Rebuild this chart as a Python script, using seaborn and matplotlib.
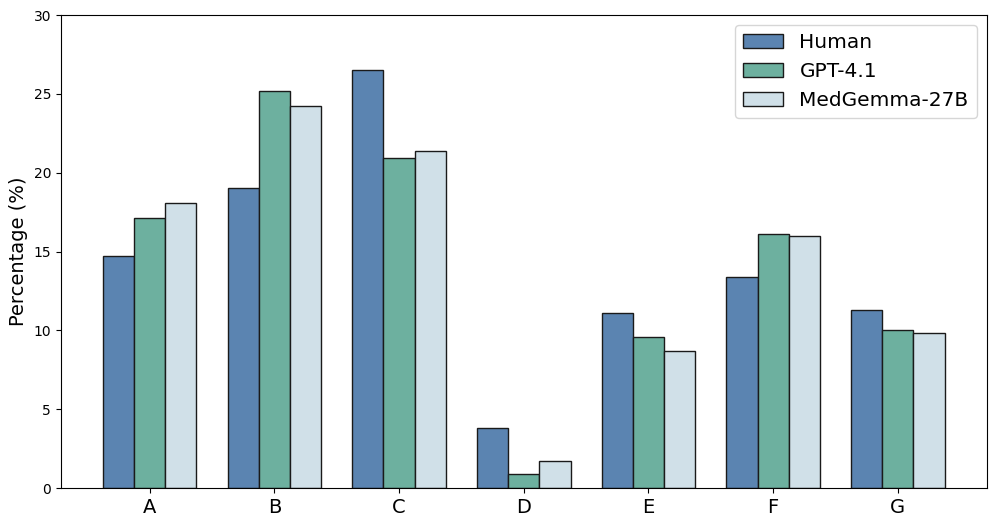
import pandas as pd
import seaborn as sns
import matplotlib
matplotlib.use("Agg")
import matplotlib.pyplot as plt

categories = ["A", "B", "C", "D", "E", "F", "G"]
models = ["Human", "GPT-4.1", "MedGemma-27B"]
human = [14.7, 19.0, 26.5, 3.8, 11.1, 13.4, 11.3]
gpt41 = [17.1, 25.2, 20.9, 0.9, 9.6, 16.1, 10.0]
medgemma = [18.1, 24.2, 21.4, 1.7, 8.7, 16.0, 9.8]
colors = ["#5b84b1", "#6db09f", "#d0e0e8"]

rows = []
for name, vals in zip(models, [human, gpt41, medgemma]):
    for cat, v in zip(categories, vals):
        rows.append({"Category": cat, "Model": name, "Percentage": v})
df = pd.DataFrame(rows)

fig = plt.figure(figsize=(9.97, 5.27), dpi=100)
ax = fig.add_axes([0.061, 0.074, 0.9287, 0.8975])

sns.barplot(data=df, x="Category", y="Percentage", hue="Model",
            palette=colors, saturation=1, width=0.75, gap=0,
            edgecolor="#1a1a1a", linewidth=1.0, ax=ax)

ax.set_xlim(-0.7125, 6.7125)
ax.set_ylim(0, 30)
ax.set_xlabel("")
ax.set_ylabel("Percentage (%)", fontsize=14)
ax.tick_params(axis="x", labelsize=14)
ax.tick_params(axis="y", labelsize=10)
ax.legend(title=None, fontsize=14.5, loc="upper right")

fig.savefig("out.png", dpi=100)
